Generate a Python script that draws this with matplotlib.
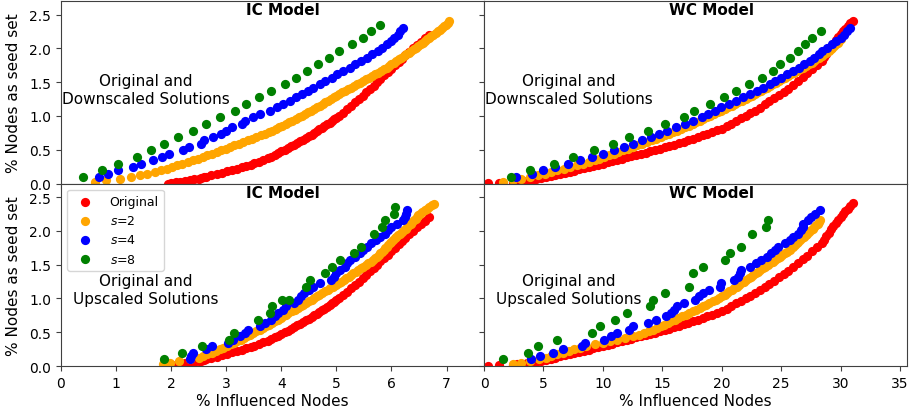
import numpy as np
import matplotlib
matplotlib.use("Agg")
import matplotlib.pyplot as plt

# seed set size (% of nodes), one step per seed for the s=2 solutions
seed_pct = [0.025, 0.049, 0.074, 0.098, 0.123, 0.147, 0.172, 0.196, 0.221, 0.245,
            0.27, 0.294, 0.319, 0.343, 0.368, 0.392, 0.417, 0.441, 0.466, 0.49,
            0.515, 0.539, 0.564, 0.588, 0.613, 0.637, 0.662, 0.686, 0.711, 0.735,
            0.76, 0.784, 0.809, 0.833, 0.858, 0.882, 0.907, 0.931, 0.956, 0.98,
            1.005, 1.029, 1.054, 1.078, 1.103, 1.127, 1.152, 1.176, 1.201, 1.225,
            1.25, 1.274, 1.299, 1.323, 1.348, 1.372, 1.397, 1.421, 1.446, 1.47,
            1.495, 1.519, 1.544, 1.568, 1.593, 1.617, 1.642, 1.666, 1.691, 1.715,
            1.74, 1.764, 1.789, 1.813, 1.838, 1.862, 1.887, 1.911, 1.936, 1.96,
            1.985, 2.009, 2.034, 2.058, 2.083, 2.107, 2.132, 2.156, 2.181, 2.205,
            2.23, 2.254, 2.279, 2.303, 2.328, 2.352, 2.377, 2.401]

# original solutions
ic_orig_x = [1.95, 2.00, 2.08, 2.17, 2.25, 2.34, 2.42, 2.50, 2.55, 2.60, 2.64,
             2.73, 2.83, 2.92, 3.01, 3.10, 3.19, 3.28, 3.36, 3.45, 3.51,
             3.59, 3.67, 3.75, 3.82, 3.88, 3.94, 4.00, 4.06, 4.12, 4.17, 4.23, 4.28, 4.34, 4.39,
             4.45, 4.50, 4.55, 4.60, 4.64, 4.69, 4.74, 4.78, 4.83, 4.88, 4.92, 4.96, 5.00, 5.04,
             5.12, 5.20, 5.27, 5.34, 5.41, 5.48, 5.54, 5.61, 5.68, 5.74, 5.80, 5.87,
             5.93, 6.00, 6.06, 6.13, 6.19, 6.25, 6.32, 6.39, 6.46, 6.53, 6.61, 6.69]
ic_orig_y = [0.0, 0.01, 0.02, 0.03, 0.04, 0.05, 0.06, 0.07, 0.08, 0.09, 0.10,
             0.12, 0.14, 0.16, 0.18, 0.20, 0.22, 0.24, 0.26, 0.28, 0.30,
             0.325, 0.35, 0.375, 0.40, 0.425, 0.45, 0.475, 0.50, 0.525, 0.55, 0.575, 0.60, 0.625, 0.65,
             0.675, 0.70, 0.725, 0.75, 0.775, 0.80, 0.825, 0.85, 0.875, 0.90, 0.925, 0.95, 0.975, 1.00,
             1.05, 1.10, 1.15, 1.20, 1.25, 1.30, 1.35, 1.40, 1.45, 1.50, 1.55, 1.60,
             1.65, 1.70, 1.75, 1.80, 1.85, 1.90, 1.95, 2.00, 2.05, 2.10, 2.15, 2.20]

wc_orig_x = [0.30, 1.25, 2.4, 2.8, 3.2, 3.6, 4.0, 4.4, 4.8, 5.2, 5.6, 6.0, 6.4, 6.8, 7.2, 7.6,
             8.0, 8.4, 8.8, 9.2, 9.6, 10.0, 10.4, 10.8, 11.2, 11.6, 12.0, 12.4, 12.8, 13.2,
             13.6, 14.0, 14.4, 14.8, 15.2, 15.6, 16.0, 16.4, 16.8, 17.2, 17.6, 18.0, 18.4,
             18.8, 19.2, 19.6, 20.0, 20.4, 20.8, 21.2, 21.6, 22.0, 22.4, 22.8, 23.2, 23.6,
             24.0, 24.4, 24.8, 25.2, 25.6, 26.0, 26.4, 26.8, 27.2, 27.6, 28.0, 28.4, 28.6,
             28.8, 29.0, 29.2, 29.4, 29.6, 29.8, 30.0, 30.2, 30.4, 30.6, 30.8, 31.0]
wc_orig_y = [0.005, 0.01, 0.02, 0.027, 0.035, 0.044, 0.053, 0.062, 0.077, 0.092, 0.108, 0.124,
             0.141, 0.158, 0.175, 0.192, 0.209, 0.226, 0.243, 0.26, 0.278, 0.296, 0.314,
             0.332, 0.35, 0.368, 0.386, 0.404, 0.422, 0.44, 0.458, 0.476, 0.494, 0.514,
             0.534, 0.555, 0.576, 0.597, 0.618, 0.64, 0.664, 0.688, 0.712, 0.736, 0.76,
             0.786, 0.812, 0.85, 0.888, 0.926, 0.964, 1.002, 1.04, 1.078, 1.125, 1.172,
             1.218, 1.264, 1.31, 1.356, 1.404, 1.463, 1.52, 1.577, 1.633, 1.695, 1.757,
             1.82, 1.87, 1.92, 1.97, 2.02, 2.07, 2.12, 2.165, 2.21, 2.25, 2.29, 2.33, 2.37, 2.41]

# IC, downscaled (x values on the seed_pct grid)
ic_down_s2 = [0.62, 0.82, 1.07, 1.27, 1.43, 1.57, 1.70, 1.81, 1.92, 2.01,
              2.10, 2.20, 2.30, 2.39, 2.48, 2.57, 2.66, 2.74, 2.83, 2.91,
              2.99, 3.07, 3.15, 3.23, 3.31, 3.39, 3.47, 3.55, 3.63, 3.70,
              3.77, 3.84, 3.90, 3.96, 4.02, 4.08, 4.14, 4.20, 4.26, 4.32,
              4.38, 4.43, 4.49, 4.54, 4.60, 4.65, 4.70, 4.75, 4.80, 4.85,
              4.90, 4.95, 5.00, 5.05, 5.10, 5.16, 5.21, 5.27, 5.32, 5.38,
              5.43, 5.49, 5.54, 5.59, 5.65, 5.70, 5.75, 5.81, 5.86, 5.91,
              5.95, 6.00, 6.04, 6.09, 6.13, 6.18, 6.22, 6.27, 6.31, 6.35,
              6.40, 6.44, 6.48, 6.53, 6.57, 6.61, 6.65, 6.69, 6.72, 6.76,
              6.80, 6.84, 6.88, 6.92, 6.95, 6.99, 7.02, 7.05]
ic_down_s4 = [0.70, 0.86, 1.04, 1.30, 1.46, 1.68, 1.84, 1.96, 2.21, 2.32,
              2.54, 2.60, 2.76, 2.90, 3.00, 3.11, 3.29, 3.34, 3.49, 3.61,
              3.80, 3.92, 4.03, 4.15, 4.26, 4.37, 4.48, 4.58, 4.70, 4.80,
              4.92, 5.02, 5.12, 5.24, 5.33, 5.45, 5.55, 5.65, 5.75, 5.83,
              5.92, 5.99, 6.05, 6.11, 6.16, 6.21]
ic_down_s8 = [0.41, 0.75, 1.04, 1.39, 1.64, 1.87, 2.13, 2.39, 2.64, 2.88, 3.16, 3.36,
              3.59, 3.81, 4.06, 4.26, 4.46, 4.66, 4.87, 5.05, 5.29, 5.48, 5.63, 5.80]

# WC, downscaled
wc_down_s2 = [1.60, 2.40, 3.15, 3.85, 4.50, 5.10, 5.65, 6.15, 6.70, 7.25,
              7.80, 8.30, 8.85, 9.30, 9.70, 10.10, 10.50, 10.90, 11.30, 11.70,
              12.10, 12.50, 12.90, 13.30, 13.70, 14.10, 14.50, 14.85, 15.20, 15.55,
              15.90, 16.25, 16.60, 16.90, 17.25, 17.55, 17.85, 18.15, 18.45, 18.75,
              19.05, 19.35, 19.65, 19.95, 20.25, 20.55, 20.85, 21.15, 21.40, 21.70,
              22.00, 22.25, 22.55, 22.80, 23.05, 23.30, 23.55, 23.80, 24.05, 24.30,
              24.55, 24.80, 25.05, 25.30, 25.55, 25.80, 26.05, 26.30, 26.55, 26.80,
              27.05, 27.30, 27.55, 27.75, 27.95, 28.15, 28.40, 28.60, 28.80, 29.00,
              29.15, 29.30, 29.45, 29.60, 29.75, 29.90, 30.05]
wc_down_s4 = [2.67, 4.0, 5.0, 6.0, 7.1, 8.1, 9.05, 10.0, 10.96, 11.8,
              12.56, 13.3, 14.05, 14.7, 15.4, 16.15, 16.9, 17.6, 18.3, 18.85,
              19.4, 19.95, 20.6, 21.2, 21.8, 22.4, 22.95, 23.5, 24.05, 24.5,
              24.95, 25.5, 26.0, 26.5, 26.95, 27.4, 27.8, 28.15, 28.45, 28.85,
              29.25, 29.65, 30.05, 30.3, 30.55, 30.8]
wc_down_s8 = [2.30, 3.88, 5.90, 7.50, 9.27, 10.88, 12.23, 13.83, 15.23, 16.81, 17.65, 19.03,
              20.18, 21.22, 22.29, 23.41, 24.31, 24.87, 25.72, 26.42, 27.04, 27.60, 28.39]

# IC, upscaled
ic_up_s2 = [1.85, 1.98, 2.15, 2.35, 2.50, 2.58, 2.66, 2.74, 2.81, 2.88,
            2.95, 3.02, 3.08, 3.14, 3.20, 3.26, 3.32, 3.38, 3.43, 3.49,
            3.55, 3.61, 3.67, 3.73, 3.78, 3.84, 3.89, 3.94, 3.99, 4.03,
            4.08, 4.13, 4.19, 4.24, 4.30, 4.35, 4.40, 4.45, 4.50, 4.55,
            4.60, 4.64, 4.69, 4.74, 4.79, 4.84, 4.89, 4.94, 4.99, 5.04,
            5.09, 5.13, 5.18, 5.22, 5.27, 5.31, 5.36, 5.40, 5.44, 5.48,
            5.53, 5.57, 5.62, 5.66, 5.70, 5.73, 5.77, 5.80, 5.83, 5.86,
            5.89, 5.92, 5.94, 5.97, 6.00, 6.03, 6.06, 6.09, 6.12, 6.15,
            6.19, 6.22, 6.26, 6.29, 6.32, 6.35, 6.38, 6.41, 6.44, 6.46,
            6.49, 6.52, 6.55, 6.60, 6.64, 6.69, 6.73, 6.77]
ic_up_s4 = [2.34, 2.36, 2.39, 2.64, 2.74, 3.03, 3.12, 3.25, 3.35, 3.40,
            3.61, 3.70, 3.82, 3.88, 3.94, 4.03, 4.08, 4.23, 4.30, 4.35,
            4.42, 4.50, 4.58, 4.70, 4.91, 4.95, 5.00, 5.06, 5.15, 5.20,
            5.24, 5.33, 5.42, 5.48, 5.55, 5.62, 5.71, 5.80, 5.88, 5.94,
            6.00, 6.10, 6.21, 6.24, 6.27, 6.29]
ic_up_s8_x = [1.87, 2.19, 2.56, 3.05, 3.14, 3.58, 3.80, 3.84, 4.02, 4.14, 4.44,
              4.53, 4.79, 4.92, 5.07, 5.32, 5.44, 5.69, 5.83, 5.89, 6.04, 6.07]
ic_up_s8_y = [0.098, 0.196, 0.294, 0.392, 0.49, 0.686, 0.784, 0.882, 0.98, 0.98, 1.176,
              1.274, 1.372, 1.47, 1.568, 1.666, 1.764, 1.96, 2.058, 2.156, 2.254, 2.352]

# WC, upscaled
wc_up_s2 = [2.40, 3.10, 3.90, 4.60, 5.20, 5.65, 6.10, 6.65, 7.15, 7.60,
            8.05, 8.60, 9.30, 10.00, 10.60, 11.20, 11.90, 12.50, 13.00, 13.45,
            13.85, 14.20, 14.55, 14.85, 15.15, 15.45, 15.75, 16.05, 16.35, 16.65,
            16.95, 17.25, 17.55, 17.85, 18.15, 18.40, 18.70, 18.95, 19.25, 19.50,
            19.80, 20.05, 20.25, 20.45, 20.65, 20.85, 21.05, 21.25, 21.45, 21.65,
            21.85, 22.05, 22.25, 22.45, 22.65, 22.85, 23.05, 23.25, 23.45, 23.65,
            23.85, 24.05, 24.30, 24.50, 24.70, 24.90, 25.10, 25.30, 25.50, 25.70,
            25.85, 26.00, 26.15, 26.30, 26.45, 26.60, 26.75, 26.90, 27.05, 27.20,
            27.35, 27.50, 27.65, 27.80, 27.95, 28.10, 28.20, 28.30]
wc_up_s4 = [3.94, 4.72, 5.82, 6.61, 8.21, 8.49, 10.12, 10.68, 11.19, 12.23,
            12.51, 13.83, 14.47, 15.32, 15.74, 16.0, 16.24, 16.86, 17.77, 18.1,
            18.41, 18.89, 19.82, 19.9, 21.0, 21.36, 21.5, 21.64, 22.34, 22.91,
            23.33, 23.8, 24.17, 24.5, 24.73, 25.3, 25.7, 26.0, 26.4, 26.7,
            26.8, 26.84, 27.26, 27.5, 27.82, 28.25]
wc_up_s8_x = [1.63, 3.71, 4.58, 6.18, 9.08, 9.75, 11.05, 12.03, 14.0, 14.19, 15.26,
              17.23, 17.62, 18.41, 20.24, 20.69, 21.59, 22.54, 23.75, 23.89]
wc_up_s8_y = [0.098, 0.196, 0.294, 0.392, 0.49, 0.588, 0.686, 0.784, 0.882, 0.98, 1.078,
              1.176, 1.372, 1.47, 1.568, 1.666, 1.764, 1.96, 2.058, 2.156]

labels = ["Original", "$s$=2", "$s$=4", "$s$=8"]
colors = ["red", "orange", "blue", "green"]


def grid_y(xs, step, first):
    return seed_pct[first::step][:len(xs)]


panels = [
    # (row, col, title, note, series)
    (0, 0, "IC Model", "Original and\nDownscaled Solutions",
     [(ic_orig_x, ic_orig_y),
      (ic_down_s2, grid_y(ic_down_s2, 1, 0)),
      (ic_down_s4, grid_y(ic_down_s4, 2, 3)),
      (ic_down_s8, grid_y(ic_down_s8, 4, 3))]),
    (0, 1, "WC Model", "Original and\nDownscaled Solutions",
     [(wc_orig_x, wc_orig_y),
      (wc_down_s2, grid_y(wc_down_s2, 1, 0)),
      (wc_down_s4, grid_y(wc_down_s4, 2, 3)),
      (wc_down_s8, grid_y(wc_down_s8, 4, 3))]),
    (1, 0, "IC Model", "Original and\nUpscaled Solutions",
     [(ic_orig_x, ic_orig_y),
      (ic_up_s2, grid_y(ic_up_s2, 1, 0)),
      (ic_up_s4, grid_y(ic_up_s4, 2, 3)),
      (ic_up_s8_x, ic_up_s8_y)]),
    (1, 1, "WC Model", "Original and\nUpscaled Solutions",
     [(wc_orig_x, wc_orig_y),
      (wc_up_s2, grid_y(wc_up_s2, 1, 0)),
      (wc_up_s4, grid_y(wc_up_s4, 2, 3)),
      (wc_up_s8_x, wc_up_s8_y)]),
]

fig, axes = plt.subplots(2, 2, figsize=(9.09, 4.14), dpi=100, sharex="col", sharey=True)
fig.subplots_adjust(left=0.067, right=0.998, bottom=0.1135, top=0.995, wspace=0, hspace=0)

for row, col, title, note, series in panels:
    ax = axes[row, col]
    for (xs, ys), c, lab in zip(series, colors, labels):
        ax.scatter(xs, ys, s=44, color=c, label=lab, linewidths=0)
    title_x = 0.524 if col == 0 else 0.538
    note_y = 0.516 if row == 0 else 0.42
    ax.text(title_x, 0.953, title, transform=ax.transAxes, ha="center", va="center",
            fontsize=11, fontweight="bold")
    ax.text(0.20, note_y, note, transform=ax.transAxes, ha="center", va="center",
            fontsize=11)
    for sp in ax.spines.values():
        sp.set_color("#404040")
    ax.tick_params(colors="#404040", labelcolor="black", labelsize=10)

axes[0, 0].set_xlim(0, 7.68)
axes[0, 1].set_xlim(0, 35.6)
axes[0, 0].set_ylim(0, 2.7)
axes[1, 0].set_xticks(range(0, 8))
axes[1, 1].set_xticks(range(0, 36, 5))
axes[0, 0].set_yticks([0, 0.5, 1.0, 1.5, 2.0, 2.5])

for ax in axes[:, 0]:
    ax.set_ylabel("% Nodes as seed set", fontsize=11, labelpad=6)
for ax in axes[1, :]:
    ax.set_xlabel("% Influenced Nodes", fontsize=11, labelpad=2)

axes[1, 0].legend(loc="upper left", fontsize=9, handletextpad=1.0)

plt.savefig("out.png", dpi=100)
